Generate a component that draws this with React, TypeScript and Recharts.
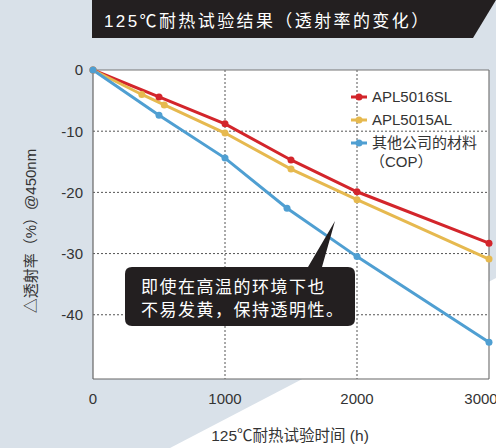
import { LineChart, Line, XAxis, YAxis, CartesianGrid, ReferenceLine } from "recharts";

const FONT = "'Liberation Sans', 'Noto Sans CJK SC', sans-serif";

const seriesNames = ["APL5016SL", "APL5015AL", "其他公司的材料"];
const seriesColors = ["#d3252b", "#e6b94f", "#4f9fd2"];

const redHours = [0, 500, 1000, 1500, 2000, 3000];
const redValues = [0, -4.4, -8.8, -14.7, -19.9, -28.3];

const yellowHours = [0, 370, 540, 1000, 1500, 2000, 3000];
const yellowValues = [0, -4.0, -5.7, -10.3, -16.2, -21.2, -30.9];

const blueHours = [0, 500, 1000, 1470, 2000, 3000];
const blueValues = [0, -7.4, -14.4, -22.6, -30.5, -44.5];

const xTicks = [0, 1000, 2000, 3000];
const yTicks = [0, -10, -20, -30, -40];

const toRows = (xs: number[], ys: number[]) => xs.map((h, i) => ({ h, v: ys[i] }));

const series = [
  toRows(redHours, redValues),
  toRows(yellowHours, yellowValues),
  toRows(blueHours, blueValues),
];

// legend drawn by hand so it doesn't eat into the plot area
function LegendBox() {
  return (
    <div style={{ position: "absolute", left: 351, top: 85, fontFamily: FONT, fontSize: 15, color: "#333", lineHeight: "23px" }}>
      {seriesNames.map((name, i) => (
        <div key={name} style={{ display: "flex", alignItems: "center" }}>
          <svg width={21} height={10}>
            <line x1={0} y1={5} x2={16} y2={5} stroke={seriesColors[i]} strokeWidth={3} />
            <circle cx={8} cy={5} r={3.5} fill={seriesColors[i]} />
          </svg>
          <span>{name}</span>
        </div>
      ))}
      <div style={{ paddingLeft: 19, marginTop: -4 }}>（COP）</div>
    </div>
  );
}

export default function App() {
  return (
    <div style={{ position: "absolute", left: 0, top: 0, width: 496, height: 448, background: "#d9e1e9", overflow: "hidden", fontFamily: FONT }}>
      <svg width={496} height={448} style={{ position: "absolute", left: 0, top: 0 }}>
        <polygon points="170,448 496,278 496,448" fill="#ffffff" />
        <polygon points="92,0 496,0 473,38 92,38" fill="#231f20" />
        <text x={104} y={27} fill="#fff" fontSize={17} letterSpacing={2.4} fontFamily={FONT}>
          125℃耐热试验结果（透射率的变化）
        </text>
      </svg>
      <div style={{ position: "absolute", left: 0, top: 0 }}>
        <LineChart width={496} height={448} margin={{ top: 70, right: 7, left: 0, bottom: 0 }}>
          <CartesianGrid
            fill="#ffffff"
            stroke="#555"
            strokeDasharray="2 2"
            horizontalValues={[-10, -20, -30, -40]}
            verticalValues={[1000, 2000]}
          />
          <XAxis
            dataKey="h"
            type="number"
            domain={[0, 3000]}
            ticks={xTicks}
            allowDuplicatedCategory={false}
            height={69}
            tickLine={false}
            tickMargin={8}
            axisLine={{ stroke: "#666", strokeWidth: 1.2 }}
            tick={{ fill: "#333", fontSize: 15, fontFamily: FONT }}
          />
          <YAxis
            dataKey="v"
            type="number"
            domain={[-50.5, 0]}
            ticks={yTicks}
            width={93}
            tickLine={false}
            tickMargin={4}
            axisLine={{ stroke: "#666", strokeWidth: 1.2 }}
            tick={{ fill: "#333", fontSize: 15, fontFamily: FONT }}
          />
          <ReferenceLine x={3000} stroke="#777" strokeWidth={1.2} />
          <ReferenceLine y={0} stroke="#777" strokeWidth={1.2} />
          {series.map((rows, i) => (
            <Line
              key={seriesNames[i]}
              data={rows}
              dataKey="v"
              name={seriesNames[i]}
              stroke={seriesColors[i]}
              strokeWidth={3}
              dot={{ r: 3.5, fill: seriesColors[i], stroke: "none" }}
              isAnimationActive={false}
            />
          ))}
        </LineChart>
      </div>
      <LegendBox />
      <svg width={496} height={448} style={{ position: "absolute", left: 0, top: 0, pointerEvents: "none" }}>
        <text x={290} y={441} fill="#333" fontSize={15.5} textAnchor="middle" fontFamily={FONT}>
          125℃耐热试验时间 (h)
        </text>
        <text x={36} y={231} fill="#333" fontSize={15} textAnchor="middle" fontFamily={FONT} transform="rotate(-90 36 231)">
          △透射率（%）@450nm
        </text>
        <path
          d="M132,267 H308 L335,221 L322,267 H348 Q355,267 355,274 V319 Q355,326 348,326 H132 Q125,326 125,319 V274 Q125,267 132,267 Z"
          fill="#231f20"
        />
        <text x={141} y={293} fill="#fff" fontSize={17} letterSpacing={1.5} fontFamily={FONT}>即使在高温的环境下也</text>
        <text x={141} y={316} fill="#fff" fontSize={17} letterSpacing={1.5} fontFamily={FONT}>不易发黄，保持透明性。</text>
      </svg>
    </div>
  );
}
